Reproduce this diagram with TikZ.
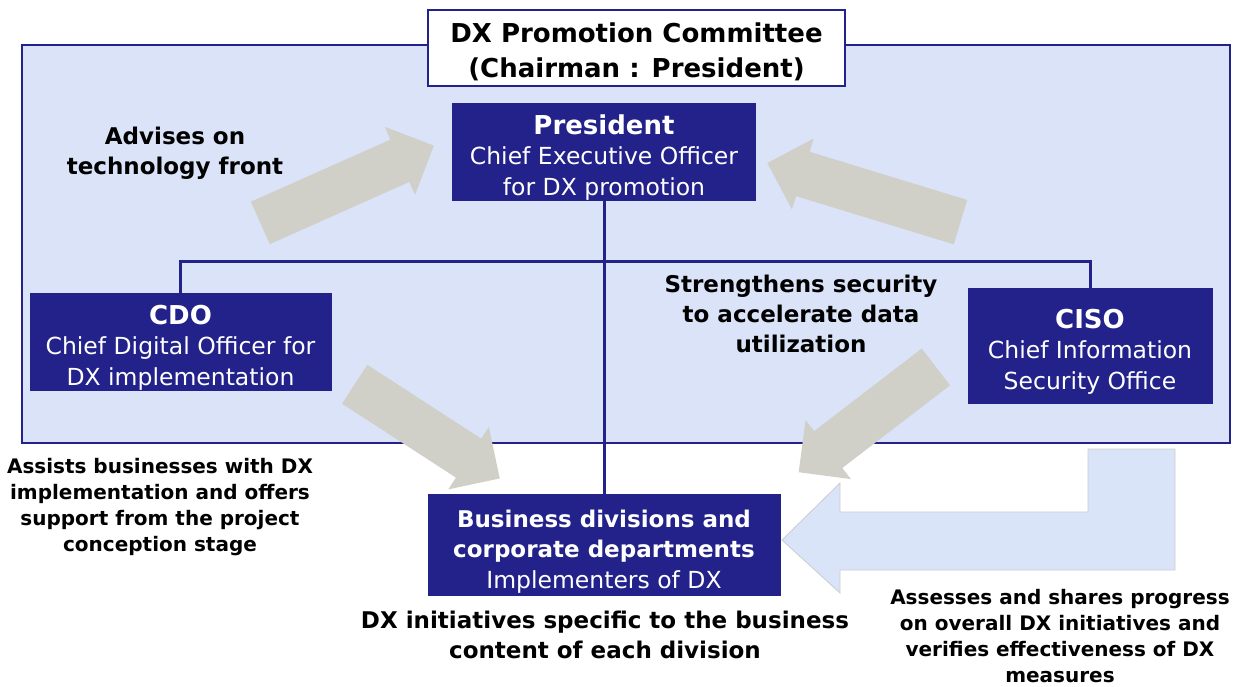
\documentclass[tikz,border=0pt]{standalone}
\usepackage{fontspec}
\setmainfont{DejaVu Sans}
\usetikzlibrary{shapes.arrows}

\definecolor{navy}{RGB}{34,34,138}
\definecolor{panelblue}{RGB}{218,227,247}
\definecolor{arrowgray}{RGB}{208,208,201}
\definecolor{lightarrow}{RGB}{218,228,248}

\newcommand{\boxhead}[2]{{\bfseries\fontsize{#1}{31}\selectfont\rule{0pt}{31pt}#2}}

\tikzset{
  unitbox/.style={draw=navy, fill=navy, text=white, align=center, inner sep=0pt,
    font=\fontsize{23.5}{30.5}\selectfont},
  grayarrow/.style={single arrow, fill=arrowgray, inner sep=23pt,
    single arrow head extend=14pt},
  note/.style={align=center, font=\bfseries\fontsize{23}{30}\selectfont},
  smallnote/.style={align=center, font=\bfseries\fontsize{20}{26.2}\selectfont},
  link/.style={draw=navy, line width=3pt}
}

\begin{document}
\begin{tikzpicture}[x=1pt,y=-1pt]
  \useasboundingbox (0,0) rectangle (1234,686);

  % panel of the committee
  \draw[navy, fill=panelblue, line width=1.5pt] (22,45) rectangle (1230,443);
  \node[draw=navy, fill=white, line width=1.5pt, minimum width=417pt, minimum height=76pt,
    align=center, font=\bfseries\fontsize{26}{35}\selectfont] (committee) at (636.5,48)
    {\rule{0pt}{28pt}DX Promotion Committee\\(Chairman : President)};

  % gray arrows
  \node[grayarrow, minimum height=190pt, rotate=24] (advarrow) at (336.5,189) {};
  \node[grayarrow, minimum height=202pt, rotate=163] (secarrow) at (875,196) {};
  \node[grayarrow, minimum height=173pt, rotate=-33] (cdoarrow) at (417.5,425) {};
  \node[grayarrow, minimum height=173pt, rotate=217.5] (cisoarrow) at (876.5,412.5) {};

  % feedback arrow
  \draw[draw=black!20, fill=lightarrow, line width=0.8pt]
    (1088,449) -- (1175,449) -- (1175,570) -- (840,570) -- (840,593) -- (782,540)
    -- (840,483) -- (840,512) -- (1088,512) -- cycle;

  % units
  \node[unitbox, minimum width=303pt, minimum height=97pt] (president) at (604,151.5)
    {\boxhead{26}{President}\\Chief Executive Officer\\for DX promotion};
  \node[unitbox, minimum width=301pt, minimum height=97pt] (cdo) at (180.5,341.5)
    {\boxhead{26}{CDO}\\Chief Digital Officer for\\DX implementation};
  \node[unitbox, minimum width=244pt, minimum height=115pt] (ciso) at (1090,345.5)
    {\boxhead{26}{CISO}\\Chief Information\\Security Office};
  \node[unitbox, minimum width=352pt, minimum height=101pt] (business) at (604,544.5)
    {\boxhead{23}{Business divisions and}\\{\bfseries\fontsize{23}{30}\selectfont corporate departments}\\Implementers of DX};

  % reporting lines
  \draw[link] (president.south) -- (business.north);
  \draw[link] (cdo.north) -- ++(0,-31) -| (ciso.north);

  % labels
  \node[note] (advise) at (175,153) {Advises on\\technology front};
  \node[note] (security) at (801,314) {Strengthens security\\to accelerate data\\utilization};
  \node[smallnote] (assist) at (160,507) {Assists businesses with DX\\implementation and offers\\support from the project\\conception stage};
  \node[note] (initiatives) at (605,635)
    {DX initiatives specific to the business\\content of each division};
  \node[smallnote, font=\bfseries\fontsize{20}{25.8}\selectfont] (assess) at (1060,636)
    {Assesses and shares progress\\on overall DX initiatives and\\verifies effectiveness of DX\\measures};
\end{tikzpicture}
\end{document}
